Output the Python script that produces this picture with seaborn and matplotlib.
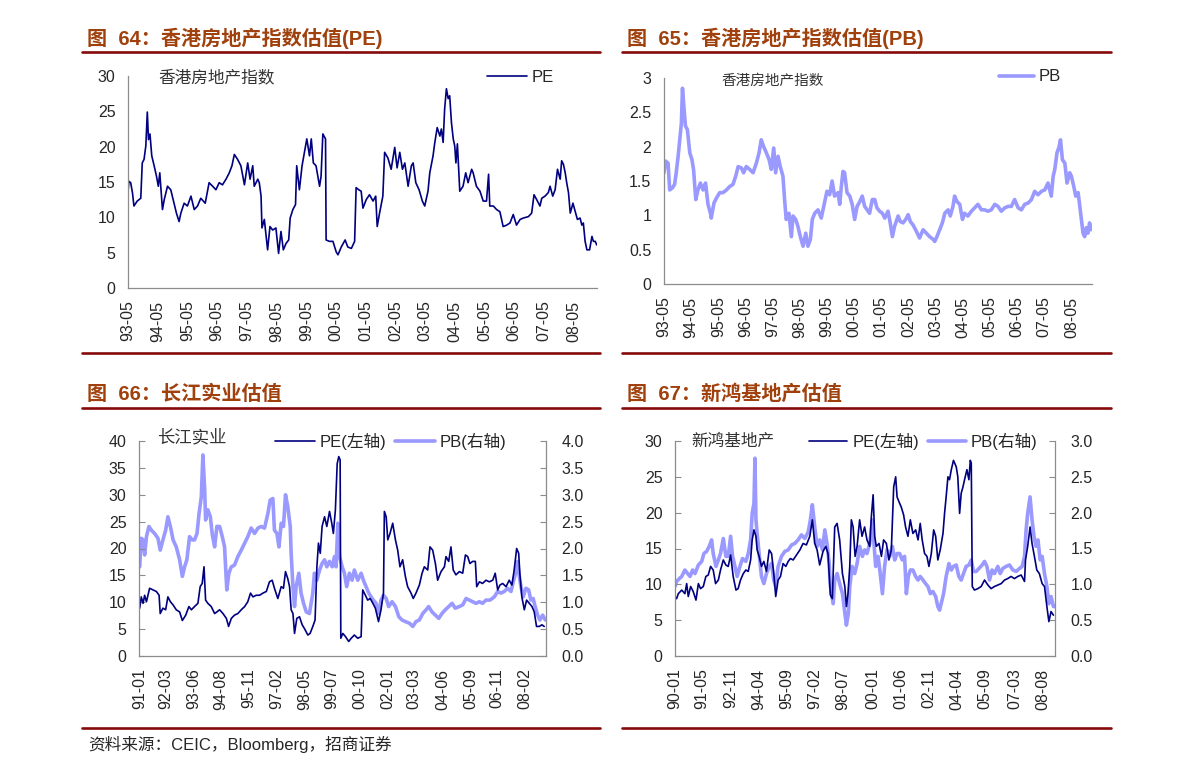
import numpy as np
import seaborn as sns
import matplotlib.pyplot as plt
from matplotlib.lines import Line2D
from matplotlib.ticker import FixedLocator, FuncFormatter

sns.set_style("white")
plt.rcParams['font.family'] = ['Liberation Sans', 'Noto Sans CJK SC']

# 图64 香港房地产指数 PE
hk_pe_t = [1993.33, 1993.36, 1993.42, 1993.48, 1993.53, 1993.64, 1993.76, 1993.81, 1993.87, 1993.93,
           1993.98, 1994.02, 1994.07, 1994.13, 1994.21, 1994.29, 1994.35, 1994.40, 1994.49, 1994.55,
           1994.66, 1994.77, 1994.88, 1994.96, 1995.05, 1995.11, 1995.22, 1995.33, 1995.45, 1995.56,
           1995.67, 1995.78, 1995.93, 1996.06, 1996.18, 1996.29, 1996.40, 1996.51, 1996.63, 1996.74,
           1996.83, 1996.91, 1997.02, 1997.13, 1997.25, 1997.36, 1997.44, 1997.53, 1997.58, 1997.70,
           1997.75, 1997.81, 1997.84, 1997.92, 1997.98, 1998.03, 1998.11, 1998.20, 1998.31, 1998.40,
           1998.48, 1998.56, 1998.65, 1998.74, 1998.79, 1998.88, 1998.97, 1999.01, 1999.10, 1999.19,
           1999.27, 1999.35, 1999.44, 1999.50, 1999.57, 1999.66, 1999.78, 1999.83, 1999.89, 1999.98,
           2000.00, 2000.11, 2000.23, 2000.34, 2000.40, 2000.51, 2000.64, 2000.73, 2000.85, 2000.96,
           2001.01, 2001.10, 2001.18, 2001.24, 2001.35, 2001.46, 2001.58, 2001.67, 2001.72, 2001.80,
           2001.91, 2001.97, 2002.08, 2002.19, 2002.31, 2002.39, 2002.48, 2002.57, 2002.65, 2002.76,
           2002.87, 2002.93, 2003.02, 2003.13, 2003.24, 2003.32, 2003.43, 2003.49, 2003.60, 2003.66,
           2003.74, 2003.83, 2003.88, 2003.94, 2003.99, 2004.05, 2004.11, 2004.16, 2004.22, 2004.28,
           2004.33, 2004.37, 2004.42, 2004.50, 2004.61, 2004.70, 2004.78, 2004.90, 2004.95, 2005.06,
           2005.18, 2005.29, 2005.40, 2005.47, 2005.51, 2005.63, 2005.74, 2005.85, 2005.96, 2006.08,
           2006.19, 2006.30, 2006.41, 2006.53, 2006.64, 2006.81, 2006.92, 2007.00, 2007.09, 2007.20,
           2007.26, 2007.37, 2007.48, 2007.54, 2007.63, 2007.71, 2007.79, 2007.88, 2007.93, 2007.99,
           2008.05, 2008.10, 2008.16, 2008.22, 2008.31, 2008.39, 2008.46, 2008.55, 2008.61, 2008.66,
           2008.72, 2008.78, 2008.87, 2008.95, 2009.00, 2009.06, 2009.11]
hk_pe = [13.5, 15.1, 14.9, 13.5, 11.6, 12.3, 12.7, 17.7, 18.2, 20.1,
         24.9, 21.0, 21.8, 18.7, 17.3, 15.8, 14.4, 16.3, 11.1, 12.5,
         14.4, 13.9, 12.0, 10.6, 9.4, 10.6, 12.0, 11.6, 13.0, 11.1,
         11.6, 12.7, 12.0, 14.9, 14.4, 13.9, 14.9, 14.6, 15.4, 16.3,
         17.3, 18.9, 18.2, 17.3, 14.6, 17.7, 15.4, 17.3, 14.4, 15.4,
         14.9, 13.0, 8.5, 9.7, 7.3, 5.4, 8.7, 8.2, 8.5, 4.9,
         8.0, 5.4, 6.3, 6.8, 9.9, 11.1, 11.8, 17.3, 13.9, 17.3,
         19.2, 21.1, 18.7, 21.1, 17.7, 17.3, 14.4, 15.8, 21.8, 21.1,
         6.8, 6.6, 6.6, 5.1, 4.7, 5.8, 6.8, 5.8, 5.6, 6.6,
         14.2, 13.9, 13.7, 11.3, 12.5, 13.2, 12.3, 13.0, 8.7, 10.6,
         13.0, 19.2, 18.4, 16.8, 19.9, 17.0, 19.2, 16.8, 17.7, 14.4,
         17.3, 17.7, 14.9, 13.9, 12.3, 11.6, 13.7, 16.3, 18.7, 20.6,
         22.7, 21.5, 22.5, 20.6, 25.3, 28.2, 26.8, 27.2, 23.4, 21.1,
         20.1, 17.7, 20.4, 13.7, 14.4, 16.3, 14.9, 16.8, 16.3, 14.4,
         13.7, 12.3, 12.3, 16.1, 11.6, 11.6, 11.1, 10.8, 8.7, 8.9,
         9.2, 10.4, 8.9, 9.7, 9.9, 10.1, 10.6, 13.2, 12.5, 11.6,
         12.7, 13.0, 13.5, 14.4, 13.0, 13.9, 16.8, 15.4, 18.0, 17.5,
         16.3, 14.9, 13.5, 10.6, 12.0, 10.8, 9.7, 9.9, 8.9, 9.2,
         6.6, 5.4, 5.4, 7.3, 6.6, 6.6, 6.1]

# 图65 香港房地产指数 PB
hk_pb_t = [1993.33, 1993.39, 1993.48, 1993.54, 1993.64, 1993.72, 1993.78, 1993.85, 1993.91, 1993.97,
           1994.01, 1994.05, 1994.12, 1994.19, 1994.28, 1994.36, 1994.42, 1994.50, 1994.58, 1994.67,
           1994.77, 1994.86, 1994.95, 1995.04, 1995.07, 1995.17, 1995.26, 1995.38, 1995.50, 1995.63,
           1995.75, 1995.87, 1995.97, 1996.06, 1996.18, 1996.26, 1996.36, 1996.48, 1996.61, 1996.73,
           1996.83, 1996.91, 1997.00, 1997.10, 1997.20, 1997.28, 1997.37, 1997.44, 1997.53, 1997.61,
           1997.71, 1997.77, 1997.83, 1997.93, 1998.02, 1998.08, 1998.18, 1998.26, 1998.35, 1998.45,
           1998.55, 1998.63, 1998.72, 1998.79, 1998.88, 1999.00, 1999.12, 1999.25, 1999.33, 1999.43,
           1999.52, 1999.61, 1999.74, 1999.80, 1999.86, 1999.92, 1999.98, 2000.07, 2000.17, 2000.26,
           2000.35, 2000.44, 2000.54, 2000.63, 2000.72, 2000.81, 2000.90, 2001.00, 2001.09, 2001.17,
           2001.27, 2001.37, 2001.46, 2001.58, 2001.66, 2001.74, 2001.82, 2001.95, 2002.03, 2002.13,
           2002.23, 2002.32, 2002.40, 2002.50, 2002.62, 2002.74, 2002.87, 2002.99, 2003.11, 2003.24,
           2003.30, 2003.38, 2003.48, 2003.58, 2003.67, 2003.79, 2003.87, 2003.97, 2004.03, 2004.12,
           2004.22, 2004.32, 2004.40, 2004.52, 2004.65, 2004.77, 2004.89, 2005.02, 2005.14, 2005.26,
           2005.38, 2005.51, 2005.63, 2005.75, 2005.88, 2006.00, 2006.12, 2006.24, 2006.37, 2006.49,
           2006.61, 2006.74, 2006.86, 2006.98, 2007.10, 2007.23, 2007.35, 2007.47, 2007.59, 2007.66,
           2007.72, 2007.80, 2007.88, 2007.93, 2008.00, 2008.09, 2008.17, 2008.27, 2008.33, 2008.42,
           2008.49, 2008.58, 2008.64, 2008.70, 2008.76, 2008.82, 2008.88, 2008.94, 2009.00, 2009.07]
hk_pb = [1.62, 1.79, 1.76, 1.37, 1.40, 1.45, 1.62, 1.86, 2.10, 2.34,
         2.85, 2.64, 2.30, 2.25, 1.91, 1.81, 1.66, 1.23, 1.37, 1.47,
         1.37, 1.47, 1.16, 1.03, 0.96, 1.18, 1.25, 1.33, 1.33, 1.37,
         1.42, 1.45, 1.57, 1.71, 1.69, 1.62, 1.71, 1.67, 1.62, 1.76,
         1.91, 2.10, 2.00, 1.91, 1.81, 1.67, 1.98, 1.62, 1.86, 1.71,
         1.57, 1.23, 0.94, 1.03, 0.69, 0.99, 0.94, 0.84, 0.69, 0.55,
         0.74, 0.55, 0.65, 0.94, 1.03, 1.08, 0.96, 1.20, 1.35, 1.30,
         1.50, 1.28, 1.33, 1.16, 1.42, 1.64, 1.62, 1.33, 1.28, 1.16,
         0.94, 1.13, 1.20, 1.28, 1.13, 1.08, 1.03, 1.23, 1.23, 1.11,
         1.06, 1.03, 0.96, 1.06, 0.89, 0.69, 0.84, 0.99, 0.91, 0.89,
         0.94, 1.01, 0.91, 0.86, 0.77, 0.67, 0.79, 0.74, 0.69, 0.65,
         0.62, 0.69, 0.79, 0.89, 1.03, 1.08, 0.99, 1.13, 1.28, 1.20,
         1.16, 0.94, 1.03, 0.99, 1.06, 1.11, 1.16, 1.08, 1.08, 1.06,
         1.08, 1.16, 1.13, 1.06, 1.11, 1.13, 1.13, 1.23, 1.11, 1.08,
         1.16, 1.18, 1.23, 1.35, 1.30, 1.35, 1.37, 1.47, 1.28, 1.57,
         1.67, 1.91, 2.00, 2.10, 1.81, 1.76, 1.47, 1.62, 1.57, 1.42,
         1.28, 1.33, 1.13, 0.94, 0.74, 0.69, 0.82, 0.74, 0.89, 0.79]

# 图66 长江实业 PE / PB
ck_pe_t = [1991.00, 1991.07, 1991.15, 1991.22, 1991.30, 1991.44, 1991.59, 1991.74, 1991.86, 1991.91,
           1992.03, 1992.15, 1992.25, 1992.36, 1992.48, 1992.62, 1992.77, 1992.89, 1993.04, 1993.18,
           1993.29, 1993.43, 1993.58, 1993.68, 1993.77, 1993.85, 1993.92, 1994.02, 1994.17, 1994.32,
           1994.42, 1994.54, 1994.69, 1994.84, 1994.94, 1995.06, 1995.20, 1995.35, 1995.50, 1995.65,
           1995.79, 1995.91, 1996.02, 1996.16, 1996.31, 1996.46, 1996.61, 1996.75, 1996.87, 1996.97,
           1997.12, 1997.27, 1997.37, 1997.46, 1997.56, 1997.64, 1997.71, 1997.79, 1997.86, 1997.96,
           1998.08, 1998.20, 1998.30, 1998.45, 1998.55, 1998.67, 1998.77, 1998.85, 1998.92, 1999.00,
           1999.08, 1999.19, 1999.29, 1999.41, 1999.51, 1999.58, 1999.67, 1999.75, 1999.82, 1999.88,
           1999.91, 2000.00, 2000.12, 2000.26, 2000.37, 2000.51, 2000.66, 2000.81, 2000.88, 2001.00,
           2001.10, 2001.21, 2001.33, 2001.44, 2001.58, 2001.69, 2001.80, 2001.84, 2001.92, 2001.99,
           2002.09, 2002.21, 2002.33, 2002.43, 2002.53, 2002.65, 2002.77, 2002.87, 2003.02, 2003.12,
           2003.24, 2003.39, 2003.51, 2003.61, 2003.76, 2003.86, 2003.98, 2004.10, 2004.20, 2004.35,
           2004.50, 2004.57, 2004.69, 2004.79, 2004.89, 2005.01, 2005.16, 2005.31, 2005.43, 2005.53,
           2005.63, 2005.75, 2005.87, 2005.93, 2006.05, 2006.19, 2006.34, 2006.49, 2006.64, 2006.75,
           2006.86, 2006.96, 2007.08, 2007.23, 2007.37, 2007.49, 2007.59, 2007.70, 2007.79, 2007.84,
           2007.93, 2008.04, 2008.14, 2008.26, 2008.38, 2008.48, 2008.58, 2008.70, 2008.82, 2008.92]
ck_pe = [8.9, 11.0, 9.8, 11.3, 10.1, 12.6, 12.3, 12.0, 11.3, 7.9,
         8.9, 8.6, 11.0, 10.1, 9.5, 8.6, 8.2, 6.6, 7.6, 9.2,
         8.6, 9.2, 9.8, 12.9, 13.5, 16.6, 10.4, 9.8, 9.2, 7.9,
         8.2, 8.6, 7.9, 7.0, 5.5, 7.0, 7.6, 7.9, 8.6, 9.2,
         10.1, 11.7, 11.0, 11.3, 11.3, 11.7, 12.0, 13.8, 14.1, 12.6,
         10.7, 12.9, 12.6, 15.7, 14.4, 12.9, 8.6, 7.9, 4.2, 7.0,
         7.3, 5.8, 5.1, 3.9, 4.2, 5.5, 6.7, 16.6, 21.0, 19.1,
         24.1, 25.9, 24.1, 26.9, 24.7, 22.8, 27.2, 35.8, 37.1, 36.5,
         3.3, 4.2, 3.6, 2.7, 3.3, 3.9, 3.3, 3.6, 12.3, 11.3,
         10.4, 10.7, 9.8, 8.9, 6.4, 8.6, 11.7, 26.9, 25.9, 21.6,
         22.8, 24.7, 21.6, 19.7, 16.6, 17.9, 14.8, 12.9, 11.7, 10.7,
         11.7, 13.2, 15.4, 16.6, 16.0, 20.3, 19.7, 17.2, 14.1, 15.7,
         16.6, 18.5, 17.6, 20.3, 16.0, 15.1, 15.7, 15.4, 18.8, 18.5,
         17.2, 17.6, 17.6, 12.9, 13.8, 13.5, 14.1, 13.8, 14.1, 15.4,
         12.3, 13.2, 13.5, 12.9, 14.1, 13.2, 16.0, 20.0, 19.1, 15.4,
         11.0, 8.6, 10.4, 9.8, 9.2, 8.2, 5.5, 5.5, 5.8, 5.5]
ck_pb_t = [1991.00, 1991.07, 1991.15, 1991.22, 1991.30, 1991.41, 1991.52, 1991.66, 1991.81, 1991.91,
           1992.03, 1992.15, 1992.25, 1992.36, 1992.48, 1992.62, 1992.77, 1992.89, 1992.99, 1993.09,
           1993.21, 1993.33, 1993.43, 1993.54, 1993.63, 1993.73, 1993.80, 1993.88, 1993.92, 1994.02,
           1994.13, 1994.22, 1994.32, 1994.42, 1994.54, 1994.66, 1994.76, 1994.86, 1994.95, 1995.06,
           1995.20, 1995.35, 1995.50, 1995.65, 1995.79, 1995.94, 1996.09, 1996.24, 1996.38, 1996.53,
           1996.68, 1996.78, 1996.90, 1996.97, 1997.08, 1997.17, 1997.27, 1997.37, 1997.46, 1997.56,
           1997.67, 1997.71, 1997.79, 1997.86, 1997.93, 1998.05, 1998.15, 1998.26, 1998.38, 1998.52,
           1998.67, 1998.74, 1998.85, 1998.97, 1999.08, 1999.19, 1999.29, 1999.41, 1999.53, 1999.63,
           1999.70, 1999.78, 1999.85, 1999.97, 2000.07, 2000.17, 2000.29, 2000.41, 2000.51, 2000.66,
           2000.81, 2000.91, 2001.03, 2001.15, 2001.25, 2001.35, 2001.47, 2001.59, 2001.69, 2001.80,
           2001.92, 2002.03, 2002.18, 2002.33, 2002.48, 2002.62, 2002.77, 2002.95, 2003.10, 2003.24,
           2003.39, 2003.54, 2003.69, 2003.80, 2003.95, 2004.10, 2004.25, 2004.39, 2004.54, 2004.69,
           2004.84, 2004.98, 2005.16, 2005.31, 2005.46, 2005.60, 2005.75, 2005.90, 2006.05, 2006.19,
           2006.34, 2006.52, 2006.71, 2006.86, 2007.00, 2007.15, 2007.30, 2007.45, 2007.55, 2007.67,
           2007.74, 2007.82, 2007.89, 2007.99, 2008.11, 2008.23, 2008.33, 2008.43, 2008.52, 2008.63,
           2008.73, 2008.85, 2008.97]
ck_pb = [1.66, 2.19, 2.16, 1.88, 2.22, 2.41, 2.34, 2.28, 2.19, 1.97,
         2.16, 2.34, 2.59, 2.41, 2.16, 2.03, 1.79, 1.48, 1.66, 1.79,
         2.22, 2.16, 2.16, 2.28, 2.65, 2.96, 3.74, 3.09, 2.53, 2.72,
         2.59, 2.25, 2.03, 2.41, 2.41, 2.22, 2.03, 1.23, 1.54, 1.66,
         1.69, 1.85, 1.97, 2.10, 2.22, 2.38, 2.28, 2.38, 2.41, 2.38,
         2.65, 2.90, 2.93, 2.34, 2.28, 2.03, 2.47, 2.41, 3.00, 2.78,
         2.41, 1.91, 1.29, 0.92, 1.29, 1.54, 1.17, 0.98, 0.82, 0.79,
         1.17, 1.54, 1.41, 1.60, 1.72, 1.79, 1.66, 1.76, 1.66, 1.85,
         1.66, 2.47, 1.85, 1.66, 1.54, 1.29, 1.54, 1.41, 1.60, 1.41,
         1.54, 1.41, 1.29, 1.17, 1.10, 1.04, 0.98, 0.79, 1.04, 1.13,
         1.07, 0.92, 1.01, 0.92, 0.73, 0.67, 0.64, 0.61, 0.55, 0.64,
         0.67, 0.79, 0.86, 0.92, 0.82, 0.76, 0.70, 0.79, 0.86, 0.92,
         0.98, 0.89, 0.92, 0.95, 1.07, 1.04, 1.01, 0.98, 1.01, 0.98,
         1.04, 1.04, 1.10, 1.20, 1.17, 1.20, 1.26, 1.20, 1.38, 1.57,
         1.76, 1.48, 1.29, 1.10, 1.26, 1.23, 1.04, 1.07, 0.92, 0.76,
         0.67, 0.76, 0.67]

# 图67 新鸿基地产 PE / PB
shk_pe_t = [1990.00, 1990.08, 1990.17, 1990.34, 1990.50, 1990.59, 1990.67, 1990.79, 1990.92, 1991.06,
            1991.18, 1991.29, 1991.43, 1991.56, 1991.68, 1991.80, 1991.93, 1992.05, 1992.19, 1992.30,
            1992.44, 1992.57, 1992.69, 1992.81, 1992.94, 1993.08, 1993.19, 1993.31, 1993.45, 1993.58,
            1993.70, 1993.82, 1993.90, 1993.99, 1994.09, 1994.15, 1994.25, 1994.37, 1994.49, 1994.62,
            1994.76, 1994.88, 1994.99, 1995.09, 1995.21, 1995.33, 1995.46, 1995.60, 1995.72, 1995.83,
            1995.97, 1996.14, 1996.31, 1996.47, 1996.64, 1996.81, 1996.94, 1997.06, 1997.18, 1997.31,
            1997.48, 1997.62, 1997.73, 1997.85, 1997.95, 1998.07, 1998.19, 1998.32, 1998.46, 1998.58,
            1998.66, 1998.74, 1998.83, 1998.91, 1999.00, 1999.10, 1999.20, 1999.33, 1999.45, 1999.58,
            1999.70, 1999.84, 1999.92, 2000.01, 2000.09, 2000.17, 2000.31, 2000.43, 2000.54, 2000.68,
            2000.81, 2000.93, 2001.05, 2001.15, 2001.22, 2001.32, 2001.43, 2001.55, 2001.65, 2001.77,
            2001.89, 2002.02, 2002.16, 2002.28, 2002.39, 2002.49, 2002.61, 2002.73, 2002.83, 2002.95,
            2003.07, 2003.17, 2003.28, 2003.40, 2003.54, 2003.62, 2003.70, 2003.79, 2003.87, 2003.96,
            2004.07, 2004.21, 2004.29, 2004.38, 2004.46, 2004.55, 2004.63, 2004.75, 2004.85, 2004.92,
            2004.97, 2005.02, 2005.13, 2005.30, 2005.47, 2005.64, 2005.81, 2005.97, 2006.14, 2006.31,
            2006.48, 2006.65, 2006.81, 2006.98, 2007.15, 2007.32, 2007.49, 2007.66, 2007.71, 2007.82,
            2007.94, 2008.04, 2008.16, 2008.28, 2008.41, 2008.55, 2008.67, 2008.79, 2008.89, 2009.00,
            2009.12]
shk_pe = [8.3, 8.0, 8.7, 9.2, 8.7, 10.1, 8.3, 9.7, 9.0, 7.8,
          10.1, 9.4, 9.7, 11.1, 11.3, 12.5, 12.0, 10.1, 10.6, 12.0,
          13.4, 12.7, 12.5, 14.1, 11.1, 9.2, 9.4, 10.6, 11.5, 12.0,
          11.8, 13.4, 16.2, 17.6, 16.7, 14.8, 13.9, 12.5, 13.2, 11.8,
          14.8, 14.3, 11.5, 8.3, 10.6, 11.1, 12.9, 12.5, 13.2, 13.6,
          13.4, 14.1, 14.8, 15.7, 15.5, 16.7, 19.0, 15.7, 14.8, 12.7,
          14.6, 15.3, 14.3, 8.5, 8.0, 18.0, 18.5, 16.2, 11.5, 9.7,
          6.9, 8.7, 12.5, 19.0, 18.0, 13.9, 15.3, 19.0, 16.7, 18.0,
          16.2, 15.3, 19.4, 22.5, 16.7, 15.3, 15.7, 13.9, 16.2, 15.7,
          13.4, 14.8, 23.6, 25.0, 22.2, 21.5, 20.8, 19.7, 18.0, 16.7,
          19.0, 17.1, 17.6, 16.2, 18.5, 16.2, 14.3, 13.9, 12.5, 14.3,
          17.6, 16.7, 13.4, 14.8, 17.1, 19.9, 22.2, 25.0, 24.6, 26.0,
          27.3, 26.4, 25.0, 19.9, 22.7, 23.6, 24.6, 26.0, 24.6, 27.3,
          26.9, 9.7, 9.2, 9.4, 9.7, 10.6, 9.9, 9.4, 9.7, 9.9,
          10.1, 10.6, 10.8, 11.1, 10.8, 11.1, 11.3, 10.4, 13.4, 15.3,
          18.0, 15.7, 13.9, 12.0, 11.5, 10.1, 9.7, 6.9, 4.8, 6.2,
          5.7]
shk_pb_t = [1990.00, 1990.08, 1990.22, 1990.34, 1990.50, 1990.64, 1990.76, 1990.89, 1991.01, 1991.18,
            1991.35, 1991.46, 1991.60, 1991.73, 1991.85, 1991.93, 1992.07, 1992.19, 1992.30, 1992.44,
            1992.57, 1992.69, 1992.81, 1992.91, 1993.03, 1993.14, 1993.28, 1993.41, 1993.58, 1993.70,
            1993.82, 1993.90, 1993.99, 1994.04, 1994.09, 1994.15, 1994.25, 1994.37, 1994.49, 1994.62,
            1994.76, 1994.88, 1994.99, 1995.09, 1995.21, 1995.38, 1995.55, 1995.72, 1995.89, 1996.05,
            1996.22, 1996.39, 1996.56, 1996.73, 1996.84, 1996.94, 1997.06, 1997.18, 1997.31, 1997.45,
            1997.57, 1997.68, 1997.79, 1997.85, 1997.99, 1998.07, 1998.19, 1998.32, 1998.46, 1998.58,
            1998.66, 1998.76, 1998.83, 1998.95, 1999.08, 1999.20, 1999.33, 1999.47, 1999.58, 1999.70,
            1999.84, 1999.97, 2000.04, 2000.14, 2000.26, 2000.37, 2000.48, 2000.59, 2000.71, 2000.85,
            2000.98, 2001.10, 2001.22, 2001.35, 2001.48, 2001.60, 2001.69, 2001.79, 2001.89, 2002.02,
            2002.16, 2002.28, 2002.39, 2002.53, 2002.66, 2002.78, 2002.90, 2003.03, 2003.17, 2003.28,
            2003.37, 2003.45, 2003.57, 2003.70, 2003.84, 2003.96, 2004.07, 2004.21, 2004.34, 2004.46,
            2004.58, 2004.71, 2004.85, 2004.97, 2005.08, 2005.22, 2005.35, 2005.52, 2005.64, 2005.76,
            2005.89, 2006.02, 2006.14, 2006.31, 2006.43, 2006.56, 2006.73, 2006.90, 2007.07, 2007.24,
            2007.40, 2007.54, 2007.66, 2007.74, 2007.82, 2007.94, 2008.04, 2008.14, 2008.24, 2008.34,
            2008.45, 2008.55, 2008.67, 2008.79, 2008.89, 2009.00, 2009.12, 2009.20]
shk_pb = [0.97, 1.04, 1.08, 1.11, 1.20, 1.15, 1.11, 1.20, 1.15, 1.27,
          1.32, 1.43, 1.46, 1.53, 1.62, 1.43, 1.25, 1.34, 1.43, 1.64,
          1.39, 1.39, 1.67, 1.39, 1.25, 1.11, 1.25, 1.36, 1.32, 1.43,
          1.62, 1.99, 2.13, 2.76, 1.90, 1.71, 1.43, 1.11, 1.01, 1.15,
          1.25, 1.29, 1.06, 0.97, 1.25, 1.39, 1.46, 1.48, 1.55, 1.57,
          1.62, 1.69, 1.64, 1.73, 1.90, 2.11, 1.80, 1.53, 1.62, 1.48,
          1.76, 1.57, 1.29, 0.97, 0.73, 1.06, 1.15, 1.01, 0.87, 0.60,
          0.43, 0.60, 0.97, 1.25, 1.15, 1.29, 1.53, 1.39, 1.48, 1.43,
          1.57, 1.90, 1.62, 1.25, 1.39, 1.15, 0.87, 1.25, 1.48, 1.39,
          1.53, 1.34, 1.43, 1.43, 1.34, 1.39, 0.87, 1.11, 1.20, 1.20,
          1.11, 1.06, 1.11, 1.06, 1.01, 0.97, 0.87, 0.90, 0.83, 0.69,
          0.64, 0.73, 0.87, 1.11, 1.29, 1.20, 1.25, 1.27, 1.11, 1.06,
          1.15, 1.25, 1.27, 1.34, 1.18, 1.18, 1.22, 1.27, 1.32, 1.25,
          1.06, 1.20, 1.15, 1.25, 1.15, 1.22, 1.25, 1.27, 1.20, 1.18,
          1.22, 1.25, 1.39, 1.76, 1.99, 2.22, 1.90, 1.67, 1.53, 1.62,
          1.34, 1.39, 1.15, 0.97, 0.73, 0.83, 0.69, 0.69]

hk_labels = ['93-05', '94-05', '95-05', '96-05', '97-05', '98-05', '99-05', '00-05',
             '01-05', '02-05', '03-05', '04-05', '05-05', '06-05', '07-05', '08-05']
ck_labels = ['91-01', '92-03', '93-06', '94-08', '95-11', '97-02', '98-05', '99-07',
             '00-10', '02-01', '03-03', '04-06', '05-09', '06-11', '08-02']
shk_labels = ['90-01', '91-05', '92-11', '94-04', '95-09', '97-02', '98-07', '00-01',
              '01-06', '02-11', '04-04', '05-09', '07-03', '08-08']

DARK = '#000080'
LIGHT = '#9999FF'
TITLE_C = '#A0410D'
RULE_C = '#870A0A'
AXIS_C = '#8C8C8C'

W, H = 1191, 773
fig = plt.figure(figsize=(W / 100, H / 100), dpi=100)


def lbl2t(s):
    yy, mm = s.split('-')
    y = int(yy)
    y += 1900 if y > 50 else 2000
    return y + (int(mm) - 1) / 12


def px_axes(l, t, r, b):
    return fig.add_axes([l / W, 1 - b / H, (r - l) / W, (b - t) / H])


def fmt_g(v, pos):
    return '%g' % v


def style(ax, labels, xlim, ylim, yticks, minor=None, right=False):
    ax.set_xlim(*xlim)
    ax.set_ylim(*ylim)
    ax.set_xlabel('')
    ax.set_ylabel('')
    ax.grid(False)
    for s in ['top', 'right', 'left', 'bottom']:
        ax.spines[s].set_visible(s in ('left', 'bottom') or (s == 'right' and right))
        ax.spines[s].set_color(AXIS_C)
        ax.spines[s].set_linewidth(0.9)
    ax.xaxis.set_major_locator(FixedLocator([lbl2t(s) for s in labels]))
    ax.set_xticklabels(labels)
    ax.yaxis.set_major_locator(FixedLocator(yticks))
    ax.tick_params(axis='x', direction='in', length=0 if minor is not None else 4, color=AXIS_C,
                   labelsize=11.5, labelrotation=90, pad=9)
    ax.tick_params(axis='y', direction='in', length=4, color=AXIS_C, labelsize=11.5, pad=9)
    if minor is not None:
        ax.xaxis.set_minor_locator(FixedLocator(minor))
        ax.tick_params(axis='x', which='minor', direction='in', length=4, color=AXIS_C, width=0.8)
    ax.tick_params(axis='y', which='minor', length=0)


def rule(x0, x1, y):
    fig.add_artist(Line2D([x0 / W, x1 / W], [1 - y / H, 1 - y / H], color=RULE_C, lw=1.9,
                          transform=fig.transFigure))


def title(x, y, s):
    fig.text(x / W, 1 - y / H, s, fontsize=14.5, fontweight='bold', color=TITLE_C,
             ha='left', va='center')


def inner(x, y, s, size):
    fig.text(x / W, 1 - y / H, s, fontsize=size, color='#333333', ha='left', va='center')


# ---- 图64 ----
ax1 = px_axes(128, 76, 597, 288)
sns.lineplot(x=hk_pe_t, y=hk_pe, ax=ax1, color=DARK, linewidth=1.2, estimator=None, sort=False,
             legend=False, label='PE')
style(ax1, hk_labels, (1993.33, 2009.12), (0, 30), np.arange(0, 31, 5),
      minor=np.arange(1993.33, 2009.12, 0.385))
ax1.yaxis.set_major_formatter(FuncFormatter(fmt_g))
ax1.legend(loc='center left', bbox_to_anchor=(0.765, 0.995), frameon=False, fontsize=12,
           handlelength=2.4, handletextpad=0.3, borderaxespad=0, borderpad=0)

# ---- 图65 ----
ax2 = px_axes(664, 78, 1092, 284)
sns.lineplot(x=hk_pb_t, y=hk_pb, ax=ax2, color=LIGHT, linewidth=2.6, estimator=None, sort=False,
             legend=False, label='PB')
style(ax2, hk_labels, (1993.33, 2009.09), (0, 3), np.arange(0, 3.01, 0.5))
ax2.yaxis.set_major_formatter(FuncFormatter(fmt_g))
ax2.legend(loc='center left', bbox_to_anchor=(0.783, 1.005), frameon=False, fontsize=12,
           handlelength=2.1, handletextpad=0.3, borderaxespad=0, borderpad=0)

# ---- 图66 ----
ax3 = px_axes(139, 441, 546, 656)
ax3r = ax3.twinx()
sns.lineplot(x=ck_pb_t, y=ck_pb, ax=ax3r, color=LIGHT, linewidth=2.6, estimator=None, sort=False,
             legend=False, label='PB(右轴)')
sns.lineplot(x=ck_pe_t, y=ck_pe, ax=ax3, color=DARK, linewidth=1.2, estimator=None, sort=False,
             legend=False, label='PE(左轴)')
ax3.set_zorder(ax3r.get_zorder() + 1)
ax3.patch.set_visible(False)
style(ax3, ck_labels, (1990.97, 2009.0), (0, 40), np.arange(0, 41, 5), right=True,
      minor=np.arange(1991.0, 2009.0, 0.407))
ax3r.set_ylim(0, 4)
ax3r.set_ylabel('')
ax3r.yaxis.set_major_locator(FixedLocator(np.arange(0, 4.01, 0.5)))
ax3r.yaxis.set_major_formatter(FuncFormatter(lambda v, p: '%.1f' % v))
ax3r.tick_params(axis='y', direction='in', length=4, color=AXIS_C, labelsize=11.5, pad=11)
ax3r.grid(False)
for s in ax3r.spines.values():
    s.set_visible(False)
h1, l1 = ax3.get_legend_handles_labels()
h2, l2 = ax3r.get_legend_handles_labels()
ax3.legend(h1 + h2, l1 + l2, ncol=2, loc='center left', bbox_to_anchor=(0.334, 1.0),
           frameon=False, fontsize=12, handlelength=2.4, handletextpad=0.3, columnspacing=0.5,
           borderaxespad=0, borderpad=0)

# ---- 图67 ----
ax4 = px_axes(675, 441, 1055, 656)
ax4r = ax4.twinx()
sns.lineplot(x=shk_pb_t, y=shk_pb, ax=ax4r, color=LIGHT, linewidth=2.6, estimator=None, sort=False,
             legend=False, label='PB(右轴)')
sns.lineplot(x=shk_pe_t, y=shk_pe, ax=ax4, color=DARK, linewidth=1.2, estimator=None, sort=False,
             legend=False, label='PE(左轴)')
ax4.set_zorder(ax4r.get_zorder() + 1)
ax4.patch.set_visible(False)
style(ax4, shk_labels, (1990.0, 2009.2), (0, 30), np.arange(0, 31, 5), right=True,
      minor=np.arange(1990.0, 2009.2, 0.41))
ax4r.set_ylim(0, 3)
ax4r.set_ylabel('')
ax4r.yaxis.set_major_locator(FixedLocator(np.arange(0, 3.01, 0.5)))
ax4r.yaxis.set_major_formatter(FuncFormatter(lambda v, p: '%.1f' % v))
ax4r.tick_params(axis='y', direction='in', length=4, color=AXIS_C, labelsize=11.5, pad=11)
ax4r.grid(False)
for s in ax4r.spines.values():
    s.set_visible(False)
h1, l1 = ax4.get_legend_handles_labels()
h2, l2 = ax4r.get_legend_handles_labels()
ax4.legend(h1 + h2, l1 + l2, ncol=2, loc='center left', bbox_to_anchor=(0.353, 1.0),
           frameon=False, fontsize=12, handlelength=2.3, handletextpad=0.3, columnspacing=0.5,
           borderaxespad=0, borderpad=0)

# titles, rules, inner labels, source
title(87, 38, '图  64：香港房地产指数估值(PE)')
title(627, 38, '图  65：香港房地产指数估值(PB)')
title(87, 394, '图  66：长江实业估值')
title(627, 394, '图  67：新鸿基地产估值')
for y in (52, 353, 408, 728):
    rule(82, 600, y)
    rule(622, 1111, y)
inner(158, 77, '香港房地产指数', 12)
inner(721, 81, '香港房地产指数', 10.5)
inner(157, 437, '长江实业', 12.5)
inner(691, 441, '新鸿基地产', 12)
fig.text(88 / W, 1 - 744 / H, '资料来源：CEIC，Bloomberg，招商证券', fontsize=12, ha='left', va='center')

fig.savefig('out.png', dpi=100)
